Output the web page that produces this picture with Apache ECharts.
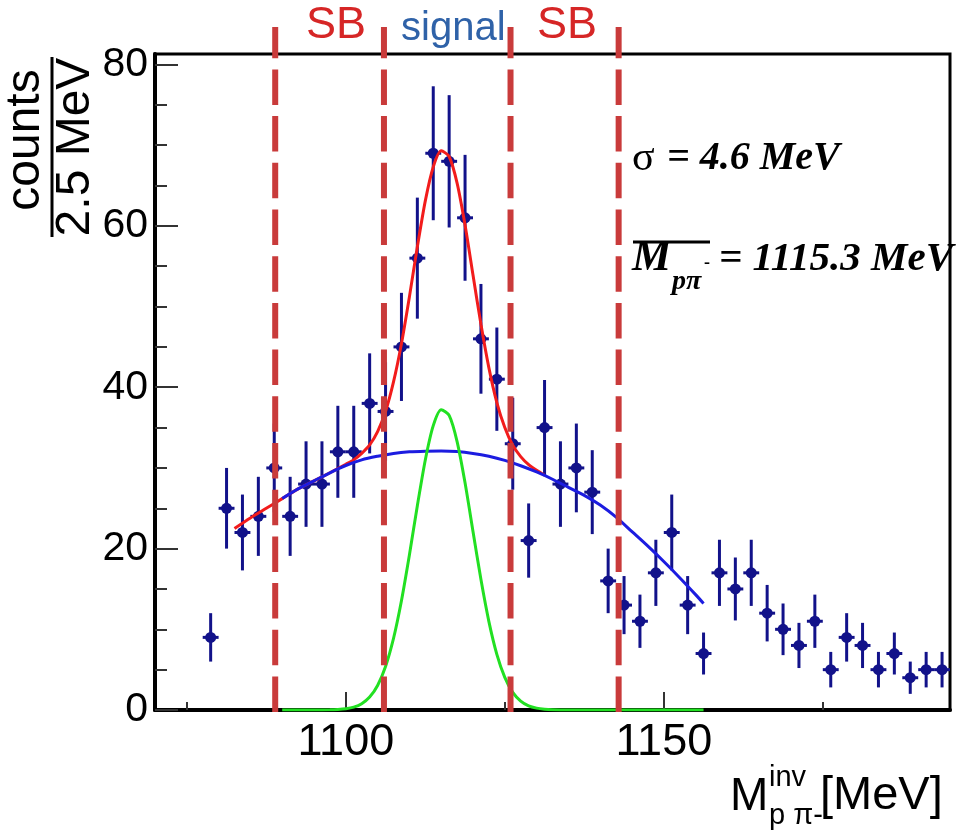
<!DOCTYPE html>
<html><head><meta charset="utf-8">
<script src="https://cdn.jsdelivr.net/npm/echarts@6/dist/echarts.min.js"></script>
<style>html,body{margin:0;padding:0;background:#fff}#c{width:965px;height:830px}</style>
</head><body><div id="c"></div><script>
// ---- data ----
const binCenters=[1078.75,1081.25,1083.75,1086.25,1088.75,1091.25,1093.75,1096.25,1098.75,1101.25,1103.75,1106.25,1108.75,1111.25,1113.75,1116.25,1118.75,1121.25,1123.75,1126.25,1128.75,1131.25,1133.75,1136.25,1138.75,1141.25,1143.75,1146.25,1148.75,1151.25,1153.75,1156.25,1158.75,1161.25,1163.75,1166.25,1168.75,1171.25,1173.75,1176.25,1178.75,1181.25,1183.75,1186.25,1188.75,1191.25,1193.75];
const counts=[9,25,22,24,30,24,28,28,32,32,38,37,45,56,69,68,61,46,41,33,21,35,28,30,27,16,13,11,17,22,13,7,17,15,17,12,10,8,11,5,9,8,5,7,4,5,5];
const errors=[3,5,4.7,4.9,5.5,4.9,5.3,5.3,5.7,5.7,6.2,6.1,6.7,7.5,8.3,8.2,7.8,6.8,6.4,5.7,4.6,5.9,5.3,5.5,5.2,4,3.6,3.3,4.1,4.7,3.6,2.6,4.1,3.9,4.1,3.5,3.2,2.8,3.3,2.2,3,2.8,2.2,2.6,2,2.2,2.2];
const binHalfWidth=1.25;

const bgX=[1090,1092.5,1095,1097.5,1100,1102.5,1105,1107.5,1110,1112.5,1115,1117.5,1120,1122.5,1125,1127.5,1130,1132.5,1135,1137.5,1140,1142.5,1145,1147.5,1150,1152.5,1155,1156.25];
const bgY=[26.2,27.4,28.4,29.4,30.3,31.0,31.45,31.8,32.0,32.08,32.1,32.03,31.8,31.44,30.93,30.27,29.5,28.6,27.6,26.6,25.4,23.9,22.1,20.3,18.4,16.4,14.3,13.2];

const totX=[1082.5,1085,1087.5,1090,1092.5,1095,1097.5,1100,1101.25,1102.5,1103.75,1105,1106.25,1107.5,1108.75,1110,1111.25,1112.5,1113.75,1115,1116.25,1117.5,1118.75,1120,1121.25,1122.5,1123.75,1125,1126.25,1127.5,1128.75,1130,1131.25];
const totY=[22.5,23.8,25.0,26.2,27.4,28.4,29.4,30.45,31.0,31.8,32.85,34.5,37.0,40.66,45.4,51.2,57.4,63.1,67.3,69.3,68.6,65.3,60.1,53.9,47.8,42.4,38.1,35.0,32.8,31.4,30.4,29.7,29.1];

const sigX=[1090,1095,1097.5,1098.75,1100,1101.25,1102.5,1103.75,1105,1106.25,1107.5,1108.75,1110,1111.25,1112.5,1113.75,1115,1116.25,1117.5,1118.75,1120,1121.25,1122.5,1123.75,1125,1126.25,1127.5,1128.75,1130,1131.25,1132.5,1135,1156.25];
const sigY=[0,0.005,0.02,0.06,0.15,0.35,0.78,1.60,3.04,5.39,8.86,13.54,19.21,25.32,30.99,35.24,37.22,36.51,33.27,28.16,22.13,16.16,10.96,6.90,4.04,2.19,1.11,0.52,0.23,0.09,0.03,0,0];

const regionEdges=[1088.9,1106.0,1125.9,1142.9];
const xMajorTicks=[1100,1150];
const xMinorTicks=[1075,1125,1175];
const yMajorTicks=[0,20,40,60,80];
const yMinorTicks=[5,10,15,25,30,35,45,50,55,65,70,75];

const pts=binCenters.map((x,i)=>[x,counts[i],errors[i]]);
const zip=(a,b)=>a.map((x,i)=>[x,b[i]]);

const SANS='Liberation Sans, Arial, sans-serif';
const SERIF='Liberation Serif, Times New Roman, serif';
const ptCol='#12128a';

const chart=echarts.init(document.getElementById('c'),null,{renderer:'canvas'});
function txt(text,x,y,font,fill,align,extra){
  return Object.assign({type:'text',x:x,y:y,z:100,style:{text:text,font:font,fill:fill,
     align:align||'left',verticalAlign:'middle',textAlign:align||'left',textVerticalAlign:'middle'}},extra||{});
}
const option={
  animation:false,
  backgroundColor:'#fff',
  grid:{left:155,right:15,top:54,bottom:120,show:true,borderColor:'#000',borderWidth:3,backgroundColor:'transparent'},
  xAxis:[
    {type:'value',min:1070,max:1195,position:'bottom',
     axisLine:{show:true,onZero:false,lineStyle:{color:'#000',width:4}},
     axisTick:{show:true,inside:true,length:18,customValues:xMajorTicks,lineStyle:{color:'#333',width:2}},
     axisLabel:{show:true,customValues:xMajorTicks,formatter:v=>String(v),fontSize:45,fontFamily:SANS,color:'#000',margin:10},
     splitLine:{show:false}},
    {type:'value',min:1070,max:1195,position:'bottom',offset:0,
     axisLine:{show:false,onZero:false},
     axisTick:{show:true,inside:true,length:8,customValues:xMinorTicks,lineStyle:{color:'#333',width:2}},
     axisLabel:{show:false},splitLine:{show:false}}
  ],
  yAxis:[
    {type:'value',min:0,max:81.3,position:'left',
     axisLine:{show:true,onZero:false,lineStyle:{color:'#000',width:4}},
     axisTick:{show:true,inside:true,length:23,customValues:yMajorTicks,lineStyle:{color:'#333',width:2}},
     axisLabel:{show:true,customValues:yMajorTicks,formatter:v=>String(v),fontSize:41,fontFamily:SANS,color:'#000',margin:7},
     splitLine:{show:false}},
    {type:'value',min:0,max:81.3,position:'left',offset:0,
     axisLine:{show:false,onZero:false},
     axisTick:{show:true,inside:true,length:12,customValues:yMinorTicks,lineStyle:{color:'#333',width:2}},
     axisLabel:{show:false},splitLine:{show:false}}
  ],
  series:[
    {type:'custom',name:'data',xAxisIndex:0,yAxisIndex:0,z:2,
     data:pts,encode:{x:0,y:1},
     renderItem:function(params,api){
       const x=api.value(0),y=api.value(1),e=api.value(2);
       const c=api.coord([x,y]);
       const t=api.coord([x,y+e]),b=api.coord([x,y-e]);
       const l=api.coord([x-binHalfWidth,y]),r=api.coord([x+binHalfWidth,y]);
       return {type:'group',children:[
         {type:'line',shape:{x1:c[0],y1:t[1],x2:c[0],y2:b[1]},style:{stroke:ptCol,lineWidth:3}},
         {type:'line',shape:{x1:l[0],y1:c[1],x2:r[0],y2:c[1]},style:{stroke:ptCol,lineWidth:3}},
         {type:'circle',shape:{cx:c[0],cy:c[1],r:5.5},style:{fill:ptCol}}
       ]};
     }},
    {type:'line',name:'total',data:zip(totX,totY),showSymbol:false,z:3,
     lineStyle:{color:'#f21c1c',width:3},smooth:0.25},
    {type:'line',name:'background',data:zip(bgX,bgY),showSymbol:false,z:4,
     lineStyle:{color:'#1c1ce0',width:3},smooth:0.3},
    {type:'line',name:'signal',data:zip(sigX,sigY),showSymbol:false,z:5,
     lineStyle:{color:'#22e022',width:3},smooth:0.25},
    {type:'custom',name:'edges',z:10,clip:false,
     data:regionEdges.map(v=>[v,0]),encode:{x:0,y:1},
     renderItem:function(params,api){
       const p=api.coord([api.value(0),0]);
       return {type:'line',shape:{x1:p[0],y1:p[1]+2,x2:p[0],y2:27},
         style:{stroke:'#c93b3b',lineWidth:6,lineDash:[35.5,11.2]}};
     }}
  ],
  graphic:[
    txt('SB',306,26,'45px '+SANS,'#d62626'),
    txt('signal',401,29,'40px '+SANS,'#2f62a8'),
    txt('SB',537,26,'45px '+SANS,'#d62626'),
    txt('σ',632,159,'42px '+SERIF,'#000'),
    txt('= 4.6 MeV',667,159,'italic bold 40px '+SERIF,'#000'),
    {type:'line',z:100,shape:{x1:633,y1:242,x2:710,y2:242},style:{stroke:'#000',lineWidth:3}},
    txt('M',632,259,'italic bold 44px '+SERIF,'#000'),
    txt('pπ',672,282,'italic bold 28px '+SERIF,'#000'),
    txt('-',704,263,'bold 18px '+SERIF,'#000'),
    txt('= 1115.3 MeV',719,259,'italic bold 41px '+SERIF,'#000'),
    txt('M',730,797,'46px '+SANS,'#000'),
    txt('inv',769,778,'29px '+SANS,'#000'),
    txt('p π-',769,816,'29px '+SANS,'#000'),
    txt('[MeV]',820,796,'47px '+SANS,'#000'),
    txt('counts',26,140,'48px '+SANS,'#000','center',{rotation:Math.PI/2}),
    {type:'line',z:100,shape:{x1:52,y1:57,x2:52,y2:237},style:{stroke:'#000',lineWidth:3}},
    txt('2.5 MeV',76,147,'48px '+SANS,'#000','center',{rotation:Math.PI/2})
  ]
};
chart.setOption(option);
</script></body></html>
